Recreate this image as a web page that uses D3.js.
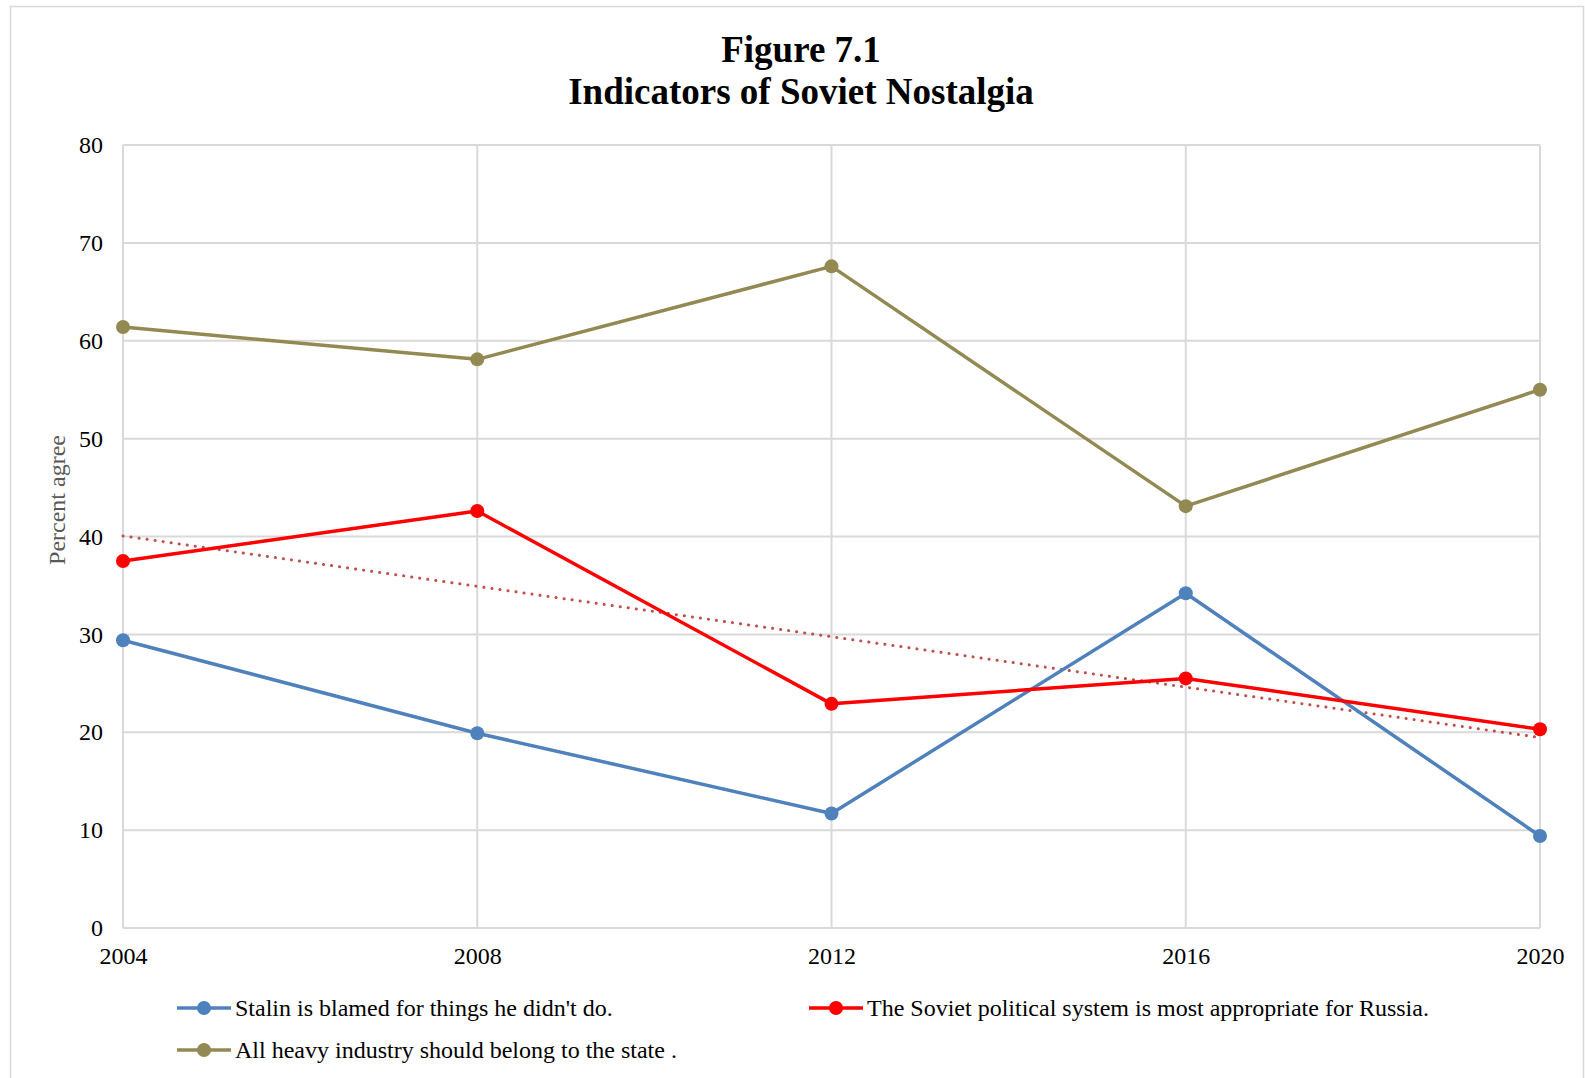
<!DOCTYPE html>
<html lang="en">
<head>
    <meta charset="UTF-8">
    <title>Indicators of Soviet Nostalgia</title>
    <script src="https://cdn.jsdelivr.net/npm/d3@7"></script>
    <style>
        body { margin: 0; background: #fff; }
        #chart { width: 1585px; height: 1078px; }
        text { font-family: "Liberation Serif", "Times New Roman", serif; }
    </style>
</head>
<body>
<div id="chart"></div>
<script type="text/javascript">
    var years = [2004, 2008, 2012, 2016, 2020];
    var stalin = [29.4, 19.9, 11.7, 34.2, 9.4];
    var soviet = [37.5, 42.6, 22.9, 25.5, 20.3];
    var industry = [61.4, 58.1, 67.6, 43.1, 55.0];
    var yTicks = [0, 10, 20, 30, 40, 50, 60, 70, 80];

    var series = [
        {name: "Stalin is blamed for things he didn't do.", values: stalin, color: '#4f81bd'},
        {name: 'The Soviet political system is most appropriate for Russia.', values: soviet, color: '#ff0000'},
        {name: 'All heavy industry should belong to the state .', values: industry, color: '#938953'}
    ];

    var svgw = 1585, svgh = 1078;
    var plotL = 123, plotR = 1540, plotT = 145, plotB = 928;

    var svg = d3.select('#chart')
        .append('svg')
        .attr('width', svgw)
        .attr('height', svgh);

    // outer frame
    svg.append('rect')
        .attr('x', 10.5).attr('y', 6.5)
        .attr('width', 1573).attr('height', 1080)
        .attr('fill', 'none')
        .attr('stroke', '#d9d9d9')
        .attr('stroke-width', 1.5);

    var x_scale = d3.scalePoint()
        .domain(years)
        .range([plotL, plotR]);

    var y_scale = d3.scaleLinear()
        .domain([0, 80])
        .range([plotB, plotT]);

    // grid
    svg.append('g')
        .selectAll('line')
        .data(yTicks)
        .enter()
        .append('line')
        .attr('x1', plotL).attr('x2', plotR)
        .attr('y1', function (d) { return y_scale(d) })
        .attr('y2', function (d) { return y_scale(d) })
        .attr('stroke', '#d9d9d9')
        .attr('stroke-width', 2);

    svg.append('g')
        .selectAll('line')
        .data(years)
        .enter()
        .append('line')
        .attr('x1', function (d) { return x_scale(d) })
        .attr('x2', function (d) { return x_scale(d) })
        .attr('y1', plotT).attr('y2', plotB)
        .attr('stroke', '#d9d9d9')
        .attr('stroke-width', 2);

    // axes (labels only)
    var y_axis = d3.axisLeft(y_scale).tickValues(yTicks).tickSize(0).tickPadding(20);
    var gy = svg.append('g').attr('transform', 'translate(' + plotL + ',0)').call(y_axis);
    gy.select('.domain').remove();
    gy.selectAll('text')
        .attr('font-family', '"Liberation Serif", serif')
        .attr('font-size', 24)
        .attr('fill', '#000');

    var x_axis = d3.axisBottom(x_scale).tickSize(0).tickPadding(19);
    var gx = svg.append('g').attr('transform', 'translate(0,' + plotB + ')').call(x_axis);
    gx.select('.domain').remove();
    gx.selectAll('text')
        .attr('font-family', '"Liberation Serif", serif')
        .attr('font-size', 24)
        .attr('fill', '#000');

    svg.append('text')
        .attr('transform', 'translate(65,500) rotate(-90)')
        .attr('text-anchor', 'middle')
        .attr('font-size', 24)
        .attr('fill', '#595959')
        .text('Percent agree');

    // title
    svg.append('text')
        .attr('x', 801).attr('y', 62)
        .attr('text-anchor', 'middle')
        .attr('font-size', 37)
        .attr('font-weight', 'bold')
        .text('Figure 7.1');
    svg.append('text')
        .attr('x', 801).attr('y', 104)
        .attr('text-anchor', 'middle')
        .attr('font-size', 37)
        .attr('font-weight', 'bold')
        .text('Indicators of Soviet Nostalgia');

    // linear trendline for the Soviet series
    var xs = d3.range(soviet.length);
    var mx = d3.mean(xs), my = d3.mean(soviet);
    var slope = d3.sum(xs, function (i) { return (i - mx) * (soviet[i] - my) }) /
        d3.sum(xs, function (i) { return (i - mx) * (i - mx) });
    var icpt = my - slope * mx;
    svg.append('line')
        .attr('x1', x_scale(years[0]))
        .attr('y1', y_scale(icpt))
        .attr('x2', x_scale(years[years.length - 1]))
        .attr('y2', y_scale(icpt + slope * (years.length - 1)))
        .attr('stroke', '#c0504d')
        .attr('stroke-width', 3)
        .attr('stroke-linecap', 'round')
        .attr('stroke-dasharray', '0.1 8');

    var line = d3.line()
        .x(function (d, i) { return x_scale(years[i]) })
        .y(function (d) { return y_scale(d) });

    series.forEach(function (s) {
        svg.append('path')
            .attr('d', line(s.values))
            .attr('fill', 'none')
            .attr('stroke', s.color)
            .attr('stroke-width', 3.5)
            .attr('stroke-linejoin', 'round');
        svg.selectAll(null)
            .data(s.values)
            .enter()
            .append('circle')
            .attr('cx', function (d, i) { return x_scale(years[i]) })
            .attr('cy', function (d) { return y_scale(d) })
            .attr('r', 7)
            .attr('fill', s.color);
    });

    // legend
    var legendPos = [[177, 1008], [809, 1008], [177, 1050]];
    series.forEach(function (s, i) {
        var g = svg.append('g')
            .attr('transform', 'translate(' + legendPos[i][0] + ',' + legendPos[i][1] + ')');
        g.append('line')
            .attr('x1', 0).attr('x2', 54).attr('y1', 0).attr('y2', 0)
            .attr('stroke', s.color).attr('stroke-width', 3.5);
        g.append('circle').attr('cx', 27).attr('cy', 0).attr('r', 7).attr('fill', s.color);
        g.append('text')
            .attr('x', 58).attr('y', 8)
            .attr('font-size', 24)
            .text(s.name);
    });
</script>
</body>
</html>
